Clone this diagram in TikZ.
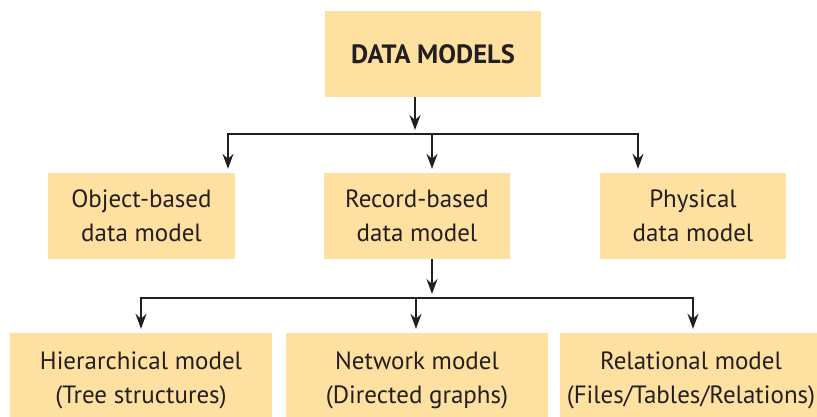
\documentclass[tikz,border=0pt]{standalone}
\usepackage{fontspec}
\setmainfont{PT Sans}
\usetikzlibrary{arrows.meta}

\definecolor{boxfill}{RGB}{254,224,160}
\definecolor{ink}{RGB}{35,31,32}

\tikzset{
  modelbox/.style={fill=boxfill, inner sep=0pt, align=center, text=ink,
                   font=\fontsize{25}{34}\selectfont},
  arr/.style={-{Stealth[length=15pt,width=11pt,inset=5pt]}, line width=1.6pt,
              draw=ink, shorten >=4pt},
  bar/.style={line width=1.6pt, draw=ink}
}

\begin{document}
\begin{tikzpicture}[x=1pt,y=-1pt]
\useasboundingbox (0,0) rectangle (817,416);
% top
\node[modelbox, minimum width=216pt, minimum height=86pt,
      font=\fontsize{26.5}{30}\selectfont\bfseries] (dm) at (433,54) {DATA MODELS};
% second row
\node[modelbox, minimum width=187pt, minimum height=86pt] (obj) at (141.5,216) {Object-based\\data model};
\node[modelbox, minimum width=186pt, minimum height=86pt] (rec) at (417,216) {Record-based\\data model};
\node[modelbox, minimum width=186pt, minimum height=86pt] (phy) at (693,216) {Physical\\data model};
% third row
\node[modelbox, minimum width=262pt, minimum height=94pt] (hier) at (141,380) {Hierarchical model\\(Tree structures)};
\node[modelbox, minimum width=262pt, minimum height=94pt] (net) at (417,380) {Network model\\(Directed graphs)};
\node[modelbox, minimum width=262pt, minimum height=94pt] (rel) at (691,380) {Relational model\\(Files/Tables/Relations)};

\coordinate (ja) at (415,134);
\coordinate (jl) at (228,134);
\coordinate (jm) at (432,134);
\coordinate (jr) at (638,134);
\draw[arr] (dm.south -| ja) -- (ja);
\draw[bar, line cap=rect] (jl) -- (jr);
\draw[arr] (jl) -- (jl |- obj.north);
\draw[arr] (jm) -- (jm |- rec.north);
\draw[arr] (jr) -- (jr |- phy.north);

\coordinate (kb) at (432,298);
\coordinate (kl) at (141,298);
\coordinate (km) at (416,298);
\coordinate (kr) at (693,298);
\draw[arr] (rec.south -| kb) -- (kb);
\draw[bar, line cap=rect] (kl) -- (kr);
\draw[arr] (kl) -- (kl |- hier.north);
\draw[arr] (km) -- (km |- net.north);
\draw[arr] (kr) -- (kr |- rel.north);
\end{tikzpicture}
\end{document}
